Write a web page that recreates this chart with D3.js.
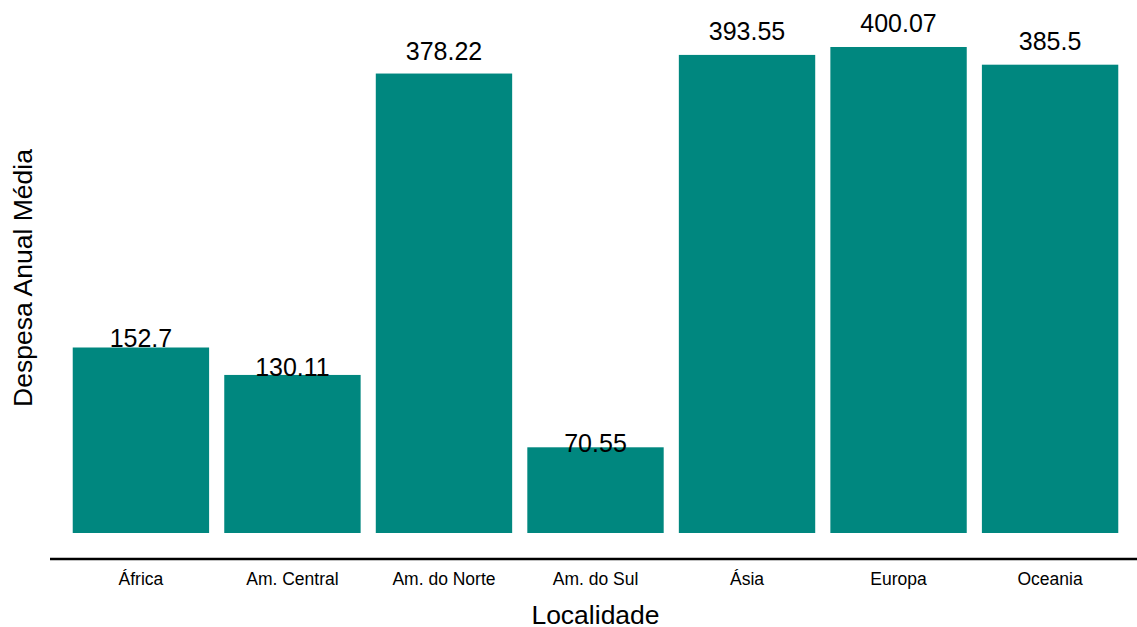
<!DOCTYPE html>
<html>
<head>
<meta charset="utf-8">
<script src="https://cdn.jsdelivr.net/npm/d3@7"></script>
<style>
  body { margin: 0; background: #fff; }
  text { font-family: "Liberation Sans", Arial, sans-serif; fill: #000; }
</style>
</head>
<body>
<div id="chart"></div>
<script>
// Data
const localidades = ['África', 'Am. Central', 'Am. do Norte', 'Am. do Sul', 'Ásia', 'Europa', 'Oceania'];
const despesas = [152.7, 130.11, 378.22, 70.55, 393.55, 400.07, 385.5];

const width = 1137,
    height = 627,
    barColor = '#00877f';

const data = localidades.map((l, i) => ({ localidade: l, valor: despesas[i] }));

const svg = d3.select('#chart')
    .append('svg')
    .attr('width', width)
    .attr('height', height);

// Scales (panel spans past the right edge like the reference)
const x = d3.scaleBand()
    .domain(localidades)
    .range([50, 1141])
    .paddingInner(0.1)
    .paddingOuter(0.15);

const y = d3.scaleLinear()
    .domain([0, 420])
    .range([533, 533 - 420 * 1.2148]);

// Bars
svg.append('g')
    .selectAll('rect')
    .data(data)
    .enter()
    .append('rect')
    .attr('x', d => x(d.localidade))
    .attr('y', d => y(d.valor))
    .attr('width', x.bandwidth())
    .attr('height', d => y(0) - y(d.valor))
    .style('fill', barColor);

// Value labels
svg.append('g')
    .selectAll('text')
    .data(data)
    .enter()
    .append('text')
    .attr('x', d => x(d.localidade) + x.bandwidth() / 2)
    .attr('y', d => y(d.valor * 1.05))
    .attr('dy', '0.36em')
    .attr('text-anchor', 'middle')
    .style('font-size', '25px')
    .text(d => d.valor);

// X axis
const xAxis = svg.append('g')
    .attr('transform', 'translate(0, 559)')
    .call(d3.axisBottom(x).tickSize(0).tickPadding(14));
xAxis.select('.domain')
    .attr('d', `M50,0H${width}`)
    .attr('stroke', '#000')
    .attr('stroke-width', 2.5);
xAxis.selectAll('.tick text')
    .style('font-size', '17.5px')
    .style('font-family', '"Liberation Sans", Arial, sans-serif')
    .attr('fill', '#000');

// Axis titles
svg.append('text')
    .attr('x', (50 + 1141) / 2)
    .attr('y', 624)
    .attr('text-anchor', 'middle')
    .style('font-size', '26.5px')
    .text('Localidade');

svg.append('text')
    .attr('transform', 'translate(32, 278) rotate(-90)')
    .attr('text-anchor', 'middle')
    .style('font-size', '26.5px')
    .text('Despesa Anual Média');
</script>
</body>
</html>
